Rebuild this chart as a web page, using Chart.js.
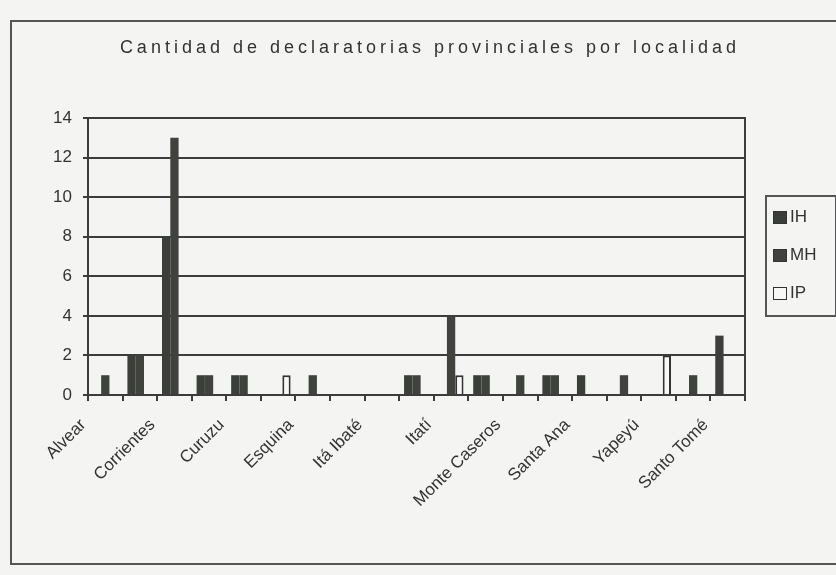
<!DOCTYPE html>
<html>
<head>
<meta charset="utf-8">
<script src="https://cdn.jsdelivr.net/npm/chart.js@4/dist/chart.umd.min.js"></script>
<style>
  body { margin: 0; background: #f4f4f2; }
  #wrap { position: relative; width: 836px; height: 575px; }
  #frame { position: absolute; left: 10px; top: 20px; width: 830px; height: 545px; border: 2px solid #555; border-right: none; box-sizing: border-box; }
  #title { position: absolute; left: 0; width: 860px; top: 37px; text-align: center; font: 18px "Liberation Sans", Arial, sans-serif; letter-spacing: 4px; color: #333; }
  #legend { position: absolute; left: 765px; top: 195px; width: 72px; height: 122px; border: 2px solid #555; box-sizing: border-box; font: 17px "Liberation Sans", Arial, sans-serif; color: #333; }
  .item { position: absolute; left: 6px; display: flex; align-items: center; }
  .sw { width: 14px; height: 13px; margin-right: 3px; box-sizing: border-box; border: 1.5px solid #333; }
</style>
</head>
<body>
<div id="wrap">
  <canvas id="chart" width="836" height="575"></canvas>
  <div id="frame"></div>
  <div id="title">Cantidad de declaratorias provinciales por localidad</div>
  <div id="legend"></div>
</div>
<script>
// localidades (solo se ven una de cada dos etiquetas en el original)
const localidades = ["Alvear", "", "Corrientes", "", "Curuzu", "", "Esquina", "", "Itá Ibaté", "",
  "Itatí", "", "Monte Caseros", "", "Santa Ana", "", "Yapeyú", "", "Santo Tomé"];

const serieIH = [0, 2, 8, 1, 1, 0, 0, 0, 0, 1, 0, 1, 0, 1, 1, 0, 0, 0, 3];
const serieMH = [1, 2, 13, 1, 1, 0, 1, 0, 0, 1, 4, 1, 1, 1, 0, 1, 0, 1, 0];
const serieIP = [0, 0, 0, 0, 0, 1, 0, 0, 0, 0, 1, 0, 0, 0, 0, 0, 2, 0, 0];

const yTicks = [0, 2, 4, 6, 8, 10, 12, 14];

const series = [
  { label: "IH", data: serieIH, fill: "#3b3e39", border: "#3b3e39", bw: 0 },
  { label: "MH", data: serieMH, fill: "#40433d", border: "#40433d", bw: 0 },
  { label: "IP", data: serieIP, fill: "#f7f7f5", border: "#333", bw: 2 }
];

// leyenda en HTML con recuadro
const legendEl = document.getElementById("legend");
series.forEach((s, i) => {
  const it = document.createElement("div");
  it.className = "item";
  it.style.top = (10 + i * 38) + "px";
  it.innerHTML = `<span class="sw" style="background:${s.fill}"></span>${s.label}`;
  legendEl.appendChild(it);
});

// recuadro del area de trazado
const plotBox = {
  id: "plotBox",
  afterDraw(chart) {
    const { ctx, chartArea: a } = chart;
    ctx.save();
    ctx.strokeStyle = "#3c3c3c";
    ctx.lineWidth = 2;
    ctx.strokeRect(a.left, a.top, a.right - a.left, a.bottom - a.top);
    ctx.restore();
  }
};

const font = { family: "'Liberation Sans', Arial, sans-serif", size: 16 };

new Chart(document.getElementById("chart"), {
  type: "bar",
  data: {
    labels: localidades,
    datasets: series.map((s) => ({
      label: s.label,
      data: s.data,
      backgroundColor: s.fill,
      borderColor: s.border,
      borderWidth: s.bw,
      categoryPercentage: 0.72,
      barPercentage: 1.0
    }))
  },
  options: {
    responsive: false,
    animation: false,
    layout: { padding: { left: 10, right: 91, top: 118, bottom: 0 } },
    plugins: {
      legend: { display: false },
      title: { display: false },
      tooltip: { enabled: false }
    },
    scales: {
      x: {
        afterFit: (s) => { s.height = 180; },
        grid: { drawOnChartArea: false, drawTicks: true, tickLength: 6, offset: true, color: "#3c3c3c", lineWidth: 2 },
        border: { color: "#3c3c3c", width: 2 },
        ticks: {
          autoSkip: false,
          minRotation: 45,
          maxRotation: 45,
          padding: 14,
          labelOffset: -22,
          color: "#333",
          font: { family: font.family, size: 17 }
        }
      },
      y: {
        min: 0,
        max: 14,
        afterFit: (s) => { s.width = 78; },
        afterBuildTicks: (s) => { s.ticks = yTicks.map((v) => ({ value: v })); },
        grid: { color: "#3c3c3c", lineWidth: 2, tickLength: 5 },
        border: { color: "#3c3c3c", width: 2 },
        ticks: { padding: 11, color: "#333", font: { family: font.family, size: 17 } }
      }
    }
  },
  plugins: [plotBox]
});
</script>
</body>
</html>
